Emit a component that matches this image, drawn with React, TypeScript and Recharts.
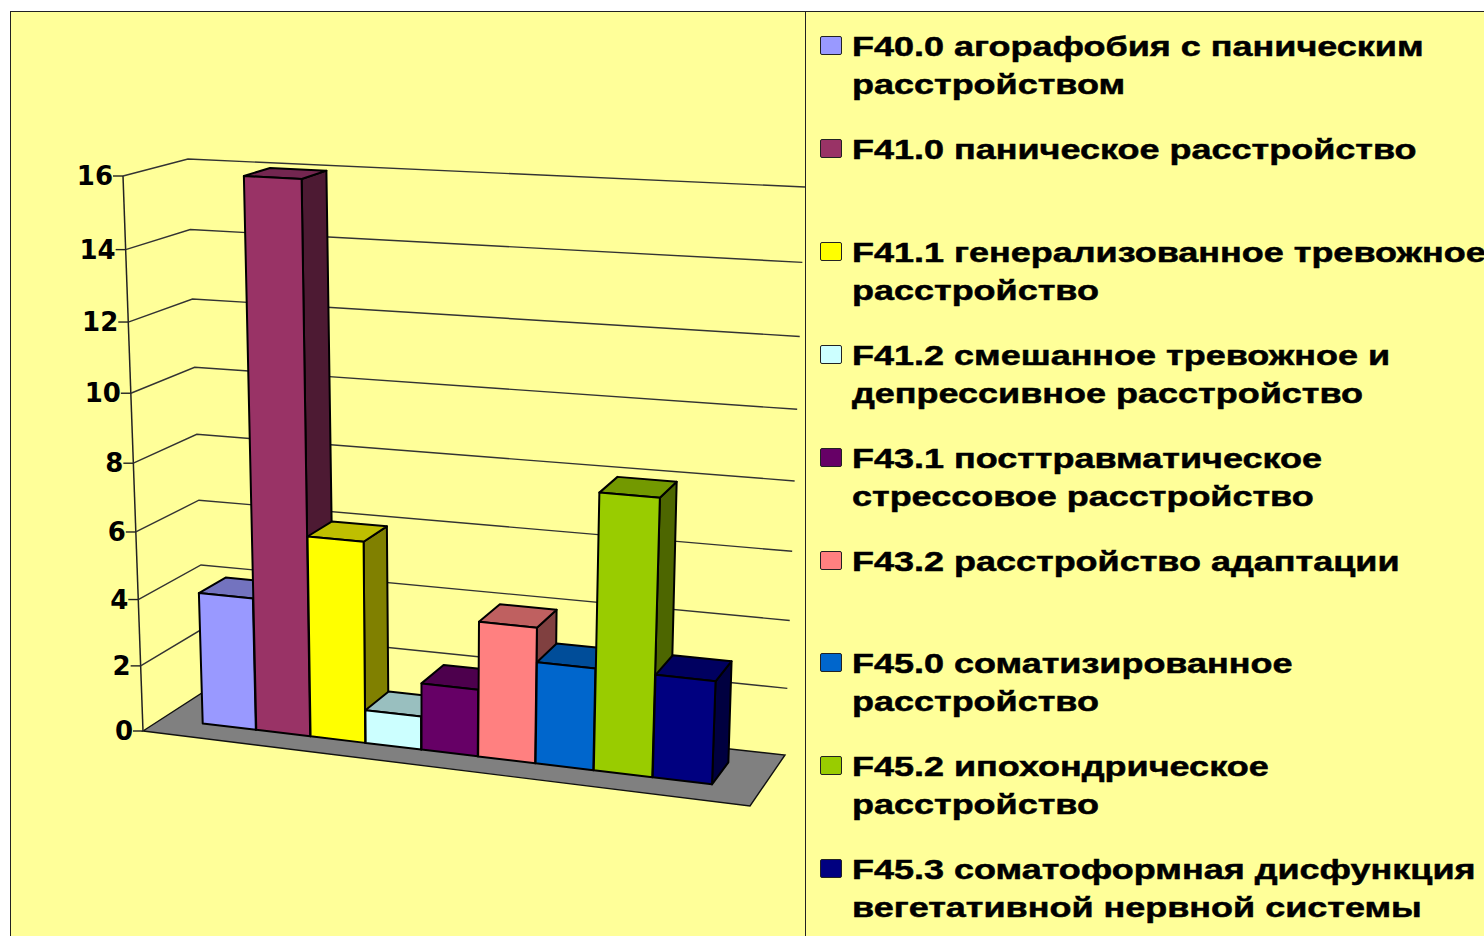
import { Bar, BarChart, CartesianGrid, XAxis, YAxis } from "recharts";

const codes = ["F40.0", "F41.0", "F41.1", "F41.2", "F43.1", "F43.2", "F45.0", "F45.2", "F45.3"];
const values = [4, 16, 6, 1, 2, 4, 3, 8, 3];
const yTicks = [0, 2, 4, 6, 8, 10, 12, 14, 16];
const fronts = ["#9999FF", "#993366", "#FFFF00", "#CCFFFF", "#660066", "#FF8080", "#0066CC", "#99CC00", "#000080"];
const tops = ["#7373BF", "#732650", "#BFBF00", "#99BFBF", "#4D004D", "#BF6060", "#004D99", "#739900", "#000060"];
const sides = ["#4D4D80", "#4D1A33", "#808000", "#668080", "#330033", "#804040", "#003366", "#4D6600", "#000040"];
const legendLines = [
  ["F40.0 агорафобия с паническим", "расстройством"],
  ["F41.0 паническое расстройство"],
  ["F41.1 генерализованное тревожное", "расстройство"],
  ["F41.2 смешанное тревожное и", "депрессивное расстройство"],
  ["F43.1 посттравматическое", "стрессовое расстройство"],
  ["F43.2 расстройство адаптации"],
  ["F45.0 соматизированное", "расстройство"],
  ["F45.2 ипохондрическое", "расстройство"],
  ["F45.3 соматоформная дисфункция", "вегетативной нервной системы"],
];

const data = codes.map((code, i) => ({ code, value: values[i] }));

// plot rectangle inside the svg, the 3d box below is projected from it
const PLOT = { left: 143, top: 176, width: 607, height: 555 };
const BOX = {
  fbl: [143, 731],
  fbr: [750, 806],
  bbl: [205, 691],
  bbr: [785, 755],
  ftl: [123, 176],
  ftr: [775, 212],
  btl: [188, 159],
  btr: [805, 187],
};
const BAR_FRONT = 0.31;
const BAR_BACK = 0.75;
const AXIS_WIDTH = 60;

const mix = (a: number, b: number, t: number) => a + (b - a) * t;

const project = (px: number, py: number, depth: number) => {
  const rawU = (px - PLOT.left) / PLOT.width;
  const u = rawU - 0.072 * rawU * (1 - rawU);
  const rawV = (PLOT.top + PLOT.height - py) / PLOT.height;
  const v = 0.93 * rawV + 0.07 * rawV * rawV;
  return [0, 1].map((k) => {
    const fb = mix(BOX.fbl[k], BOX.fbr[k], u);
    const bb = mix(BOX.bbl[k], BOX.bbr[k], u);
    const ft = mix(BOX.ftl[k], BOX.ftr[k], u);
    const bt = mix(BOX.btl[k], BOX.btr[k], u);
    return mix(mix(fb, bb, depth), mix(ft, bt, depth), v);
  });
};

const pts = (list: number[][]) => list.map((p) => p.join(",")).join(" ");

const Bar3D = (props: any) => {
  const { x, y, width, height, index } = props;
  const left = x;
  const right = x + width;
  const top = y;
  const bottom = y + height;
  const edge = { stroke: "#000", strokeWidth: 2, strokeLinejoin: "round" as const };
  return (
    <g>
      <polygon
        points={pts([project(right, bottom, BAR_FRONT), project(right, bottom, BAR_BACK), project(right, top, BAR_BACK), project(right, top, BAR_FRONT)])}
        fill={sides[index]}
        {...edge}
      />
      <polygon
        points={pts([project(left, top, BAR_FRONT), project(right, top, BAR_FRONT), project(right, top, BAR_BACK), project(left, top, BAR_BACK)])}
        fill={tops[index]}
        {...edge}
      />
      <polygon
        points={pts([project(left, bottom, BAR_FRONT), project(right, bottom, BAR_FRONT), project(right, top, BAR_FRONT), project(left, top, BAR_FRONT)])}
        fill={fronts[index]}
        {...edge}
      />
    </g>
  );
};

const GridLine = (props: any) => {
  const { x1, x2, y1 } = props;
  const isFloor = Math.abs(y1 - (PLOT.top + PLOT.height)) < 0.5;
  const a = project(x1, y1, 0);
  const b = project(x1, y1, 1);
  const c = project(x2, y1, 1);
  if (isFloor) {
    const d = project(x2, y1, 0);
    const axisTop = project(x1, PLOT.top, 0);
    return (
      <g>
        <polygon points={pts([a, b, c, d])} fill="#808080" stroke="#111" strokeWidth={1.4} />
        <line x1={a[0]} y1={a[1]} x2={axisTop[0]} y2={axisTop[1]} stroke="#222" strokeWidth={1.5} />
      </g>
    );
  }
  return <polyline points={pts([a, b, c])} fill="none" stroke="#333" strokeWidth={1.4} />;
};

const AxisTick = (props: any) => {
  const { y, payload } = props;
  const p = project(PLOT.left, y, 0);
  return (
    <g>
      <line x1={p[0] - 10} y1={p[1]} x2={p[0]} y2={p[1]} stroke="#222" strokeWidth={1.4} />
      <text
        x={p[0] - 10}
        y={p[1] + 9}
        textAnchor="end"
        fontFamily="DejaVu Sans"
        fontWeight="bold"
        fontSize={26}
        fill="#000"
      >
        {payload.value}
      </text>
    </g>
  );
};

const LegendPanel = () => (
  <div style={{ position: "absolute", left: 0, top: 0, width: 1484, height: 936 }}>
    {legendLines.map((lines, i) => (
      <div key={codes[i]}>
        <div
          style={{
            position: "absolute",
            left: 820,
            top: 36 + i * 102.9,
            width: 20,
            height: 17,
            background: fronts[i],
            border: "1.5px solid #222",
            borderRadius: 2,
          }}
        />
        {lines.map((line, j) => (
          <div
            key={line}
            style={{
              position: "absolute",
              left: 852,
              top: 31 + i * 102.9 + j * 38,
              fontFamily: "Liberation Sans",
              fontWeight: "bold",
              fontSize: 28,
              lineHeight: "32px",
              color: "#000",
              whiteSpace: "nowrap",
              WebkitTextStroke: "0.5px #000",
              transform: "scaleX(1.285)",
              transformOrigin: "left center",
            }}
          >
            {line}
          </div>
        ))}
      </div>
    ))}
  </div>
);

export default function App() {
  return (
    <div style={{ position: "absolute", left: 0, top: 0, width: 1484, height: 936, overflow: "hidden", background: "#fff" }}>
      <div
        style={{
          position: "absolute",
          left: 10,
          top: 11,
          width: 1480,
          height: 930,
          background: "#FFFF99",
          borderLeft: "1px solid #222",
          borderTop: "1px solid #222",
        }}
      />
      <div style={{ position: "absolute", left: 805, top: 11, width: 1, height: 930, background: "#222" }} />
      <div style={{ position: "absolute", left: 0, top: 0 }}>
        <BarChart
          width={1484}
          height={936}
          data={data}
          barCategoryGap={0}
          margin={{
            top: PLOT.top,
            left: PLOT.left - AXIS_WIDTH,
            right: 1484 - PLOT.left - PLOT.width,
            bottom: 936 - PLOT.top - PLOT.height,
          }}
        >
          <CartesianGrid vertical={false} horizontal={GridLine} />
          <XAxis dataKey="code" hide padding={{ left: 44, right: 46 }} />
          <YAxis width={AXIS_WIDTH} domain={[0, 16]} ticks={yTicks} interval={0} axisLine={false} tickLine={false} tick={AxisTick} />
          <Bar dataKey="value" shape={Bar3D} isAnimationActive={false} />
        </BarChart>
      </div>
      <LegendPanel />
    </div>
  );
}
